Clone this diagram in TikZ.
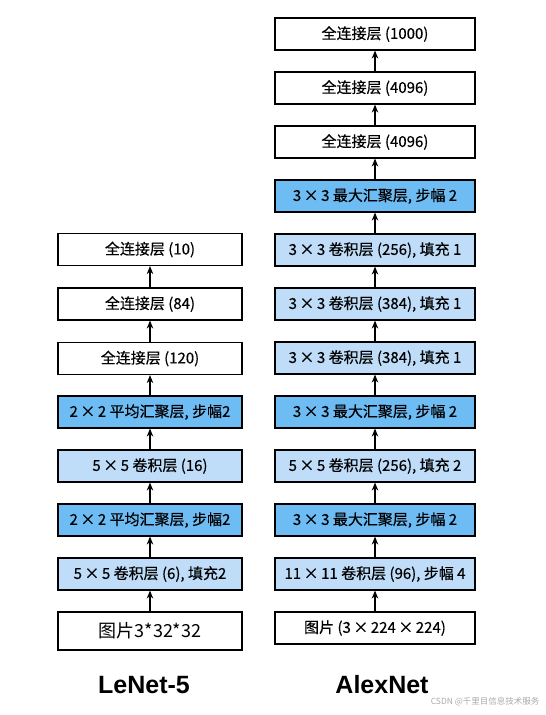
\documentclass[tikz,border=0pt]{standalone}
\usepackage{fontspec}
\setmainfont{Noto Sans CJK SC}
\newfontfamily\boxfont{Noto Sans CJK SC}[FakeBold=0.4]
\newfontfamily\lblfont{Liberation Sans}
\usetikzlibrary{arrows.meta}
\definecolor{convblue}{HTML}{BFDDF8}
\definecolor{poolblue}{HTML}{6DBCF4}
\definecolor{wmgray}{HTML}{AAAAAA}
\begin{document}
\begin{tikzpicture}[x=1pt,y=-1pt,
  layer/.style={draw=black,line width=1.2pt,minimum height=32pt,inner sep=0pt,font=\boxfont\fontsize{15}{17}\selectfont},
  lenet/.style={layer,minimum width=184pt},
  alex/.style={layer,minimum width=200pt},
  fc/.style={fill=white},
  conv/.style={fill=convblue},
  pool/.style={fill=poolblue},
  flow/.style={-{Stealth[length=8pt,width=6.5pt]},line width=1.1pt},
  netlabel/.style={font=\lblfont\bfseries\fontsize{25}{28}\selectfont}]
\useasboundingbox (0,0) rectangle (546,715);
% LeNet-5
\node[lenet,fc]   (l8) at (150,249.5) {全连接层 (10)};
\node[lenet,fc]   (l7) at (150,304) {全连接层 (84)};
\node[lenet,fc]   (l6) at (150,358.5) {全连接层 (120)};
\node[lenet,pool] (l5) at (150,412) {2\,×\,2 平均汇聚层, 步幅2};
\node[lenet,conv] (l4) at (150,466) {5\,×\,5 卷积层 (16)};
\node[lenet,pool] (l3) at (150,520) {2\,×\,2 平均汇聚层, 步幅2};
\node[lenet,conv] (l2) at (150,574) {5\,×\,5 卷积层 (6), 填充2};
\node[lenet,fc,line width=1.8pt,minimum height=38pt,font=\fontsize{18}{20}\selectfont] (l1) at (150,631) {图片3*32*32};
\foreach \a/\b in {l1/l2,l2/l3,l3/l4,l4/l5,l5/l6,l6/l7,l7/l8}
  \draw[flow] (\a.north) -- (\b.south);
% AlexNet
\node[alex,fc]   (a12) at (375,34) {全连接层 (1000)};
\node[alex,fc]   (a11) at (375,88) {全连接层 (4096)};
\node[alex,fc]   (a10) at (375,142) {全连接层 (4096)};
\node[alex,pool] (a9) at (375,196) {3\,×\,3 最大汇聚层, 步幅 2};
\node[alex,conv] (a8) at (375,250) {3\,×\,3 卷积层 (256), 填充 1};
\node[alex,conv] (a7) at (375,304) {3\,×\,3 卷积层 (384), 填充 1};
\node[alex,conv] (a6) at (375,358) {3\,×\,3 卷积层 (384), 填充 1};
\node[alex,pool] (a5) at (375,412) {3\,×\,3 最大汇聚层, 步幅 2};
\node[alex,conv] (a4) at (375,466) {5\,×\,5 卷积层 (256), 填充 2};
\node[alex,pool] (a3) at (375,520) {3\,×\,3 最大汇聚层, 步幅 2};
\node[alex,conv] (a2) at (375,574) {11\,×\,11 卷积层 (96), 步幅 4};
\node[alex,fc]   (a1) at (375,628) {图片 (3\,×\,224\,×\,224)};
\foreach \a/\b in {a1/a2,a2/a3,a3/a4,a4/a5,a5/a6,a6/a7,a7/a8,a8/a9,a9/a10,a10/a11,a11/a12}
  \draw[flow] (\a.north) -- (\b.south);
% labels
\node[netlabel] (t1) at (144,685) {LeNet-5};
\node[netlabel] (t2) at (382,685) {AlexNet};
\node[font=\fontsize{8.5}{10}\selectfont,text=wmgray,anchor=east] (wm) at (543,702) {CSDN @千里目信息技术服务};
\end{tikzpicture}
\end{document}
